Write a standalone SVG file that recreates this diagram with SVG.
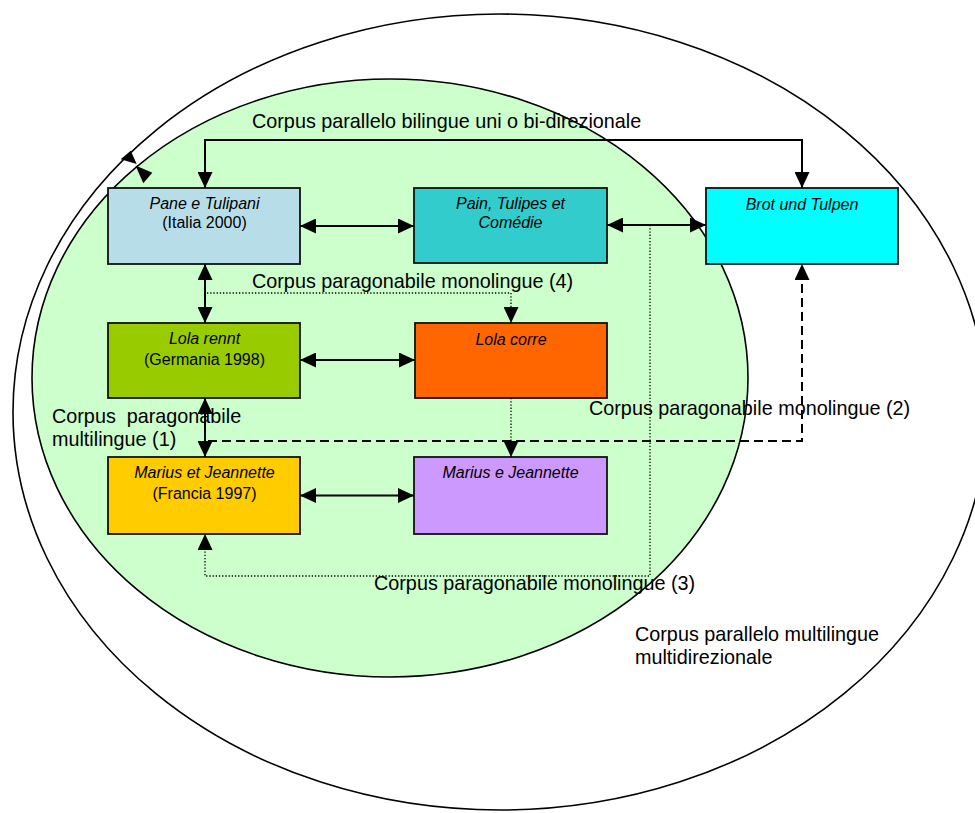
<svg xmlns="http://www.w3.org/2000/svg" width="975" height="813" viewBox="0 0 975 813">
<style>
.bg{fill:#ffffff}
.ell{stroke:#000;stroke-width:1.6}
.box{stroke:#111;stroke-width:1.8}
.t{font-family:"Liberation Sans",Arial,sans-serif;font-size:16px;fill:#000;text-anchor:middle}
.i{font-style:italic}
.lab{font-family:"Liberation Sans",Arial,sans-serif;font-size:19.8px;fill:#000}
.solid{fill:none;stroke:#000;stroke-width:2}
.dash{fill:none;stroke:#000;stroke-width:2;stroke-dasharray:9 5}
.dot{fill:none;stroke:#000;stroke-width:1.3;stroke-dasharray:1.3 1.9}
</style>
<defs>
<marker id="a" viewBox="0 0 16 15" refX="16" refY="7.5" markerWidth="16" markerHeight="15" markerUnits="userSpaceOnUse" orient="auto-start-reverse">
<path d="M0,0 L16,7.5 L0,15 z" fill="#000"/>
</marker>
</defs>
<rect class="bg" x="0" y="0" width="975" height="813"/>
<g id="ellipses">
<ellipse class="ell" cx="500" cy="412" rx="487" ry="398" fill="none"/>
<ellipse class="ell" cx="390" cy="378" rx="358" ry="299" fill="#CCFFCC"/>
</g>
<g id="labels">
<text class="lab" x="252" y="128">Corpus parallelo bilingue uni o bi-direzionale</text>
<text class="lab" x="252" y="288">Corpus paragonabile monolingue (4)</text>
<text class="lab" x="52" y="423" xml:space="preserve">Corpus  paragonabile</text>
<text class="lab" x="52" y="446">multilingue (1)</text>
<text class="lab" x="589" y="415">Corpus paragonabile monolingue (2)</text>
<text class="lab" x="374" y="590">Corpus paragonabile monolingue (3)</text>
<text class="lab" x="635" y="641">Corpus parallelo multilingue</text>
<text class="lab" x="635" y="664">multidirezionale</text>
</g>
<g id="node-pane">
<rect class="box" x="108" y="188" width="192" height="76" fill="#B7DEE8"/>
<text class="t i" x="204.5" y="209">Pane e Tulipani</text>
<text class="t" x="204.5" y="228">(Italia 2000)</text>
</g>
<g id="node-pain">
<rect class="box" x="414" y="188" width="193" height="75" fill="#33CCCC"/>
<text class="t i" x="510.5" y="209">Pain, Tulipes et</text>
<text class="t i" x="510.5" y="228">Comédie</text>
</g>
<g id="node-brot">
<rect class="box" x="706" y="188" width="192" height="76" fill="#00FFFF"/>
<text class="t i" x="802" y="210">Brot und Tulpen</text>
</g>
<g id="node-lolarennt">
<rect class="box" x="108" y="323" width="192" height="75" fill="#99CC00"/>
<text class="t i" x="204.5" y="344">Lola rennt</text>
<text class="t" x="204.5" y="365">(Germania 1998)</text>
</g>
<g id="node-lolacorre">
<rect class="box" x="415" y="323" width="192" height="75" fill="#FF6600"/>
<text class="t i" x="511" y="345">Lola corre</text>
</g>
<g id="node-mariuset">
<rect class="box" x="108" y="457" width="192" height="77" fill="#FFCC00"/>
<text class="t i" x="204.5" y="478">Marius et Jeannette</text>
<text class="t" x="204.5" y="499">(Francia 1997)</text>
</g>
<g id="node-mariuse">
<rect class="box" x="414" y="457" width="193" height="77" fill="#CC99FF"/>
<text class="t i" x="510.5" y="478">Marius e Jeannette</text>
</g>
<g id="connectors">
<path class="solid" d="M205,188 V140 H802 V188" marker-start="url(#a)" marker-end="url(#a)"/>
<path class="solid" d="M300,226 H414" marker-start="url(#a)" marker-end="url(#a)"/>
<path class="solid" d="M607,225 H706" marker-start="url(#a)" marker-end="url(#a)"/>
<path class="solid" d="M205,264 V323" marker-start="url(#a)" marker-end="url(#a)"/>
<path class="solid" d="M300,360 H415" marker-start="url(#a)" marker-end="url(#a)"/>
<path class="solid" d="M205,398 V457" marker-start="url(#a)" marker-end="url(#a)"/>
<path class="solid" d="M300,495.5 H414" marker-start="url(#a)" marker-end="url(#a)"/>
<path class="dash" d="M208,441 H802 V264" marker-end="url(#a)"/>
<path class="dot" d="M207,293 H511 V323" marker-end="url(#a)"/>
<path class="dot" d="M511,398 V457" marker-end="url(#a)"/>
<path class="dot" d="M650,225 V576 H205 V534" marker-end="url(#a)"/>
<polygon points="120.7,159.3 130.7,150.7 136.7,164" fill="#000"/>
<polygon points="135.5,165.5 152.3,172.7 143.3,183.3" fill="#000"/>
</g>
</svg>
